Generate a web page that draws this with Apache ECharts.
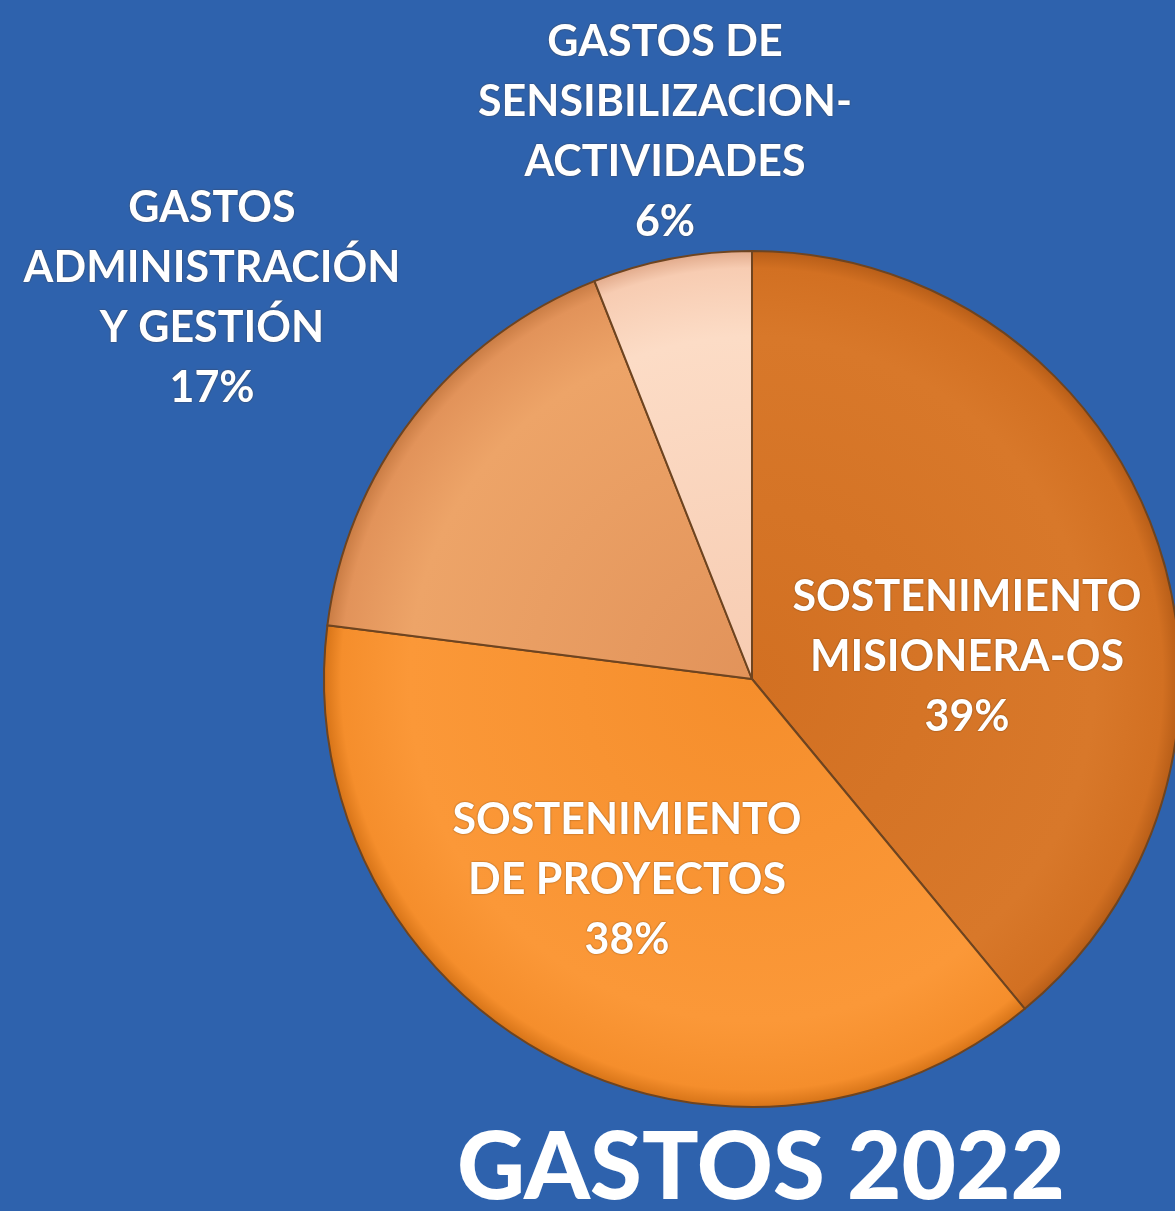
<!DOCTYPE html>
<html><head><meta charset="utf-8">
<script src="https://cdn.jsdelivr.net/npm/echarts@6/dist/echarts.min.js"></script>
<style>html,body{margin:0;padding:0;background:#2e62ad;}#c{width:1175px;height:1211px;}</style>
</head><body><div id="c"></div>
<script>
const categories = ['SOSTENIMIENTO\nMISIONERA-OS','SOSTENIMIENTO\nDE PROYECTOS','GASTOS\nADMINISTRACIÓN\nY GESTIÓN','GASTOS DE\nSENSIBILIZACION-\nACTIVIDADES'];
const values = [39, 38, 17, 6];
const colors = [['#d8782a','#d27022','#b85e18'],['#fb9838','#f58e2c','#d77418'],['#eda468','#e2935a','#c97c44'],['#fcdcc6','#f7ccb2','#e2ab8c']];
const labelPos = [[967,657],[627,880],[212,298],[665,132]];
const title = 'GASTOS 2022';

const CX = 752, CY = 679, R = 428;
const chart = echarts.init(document.getElementById('c'), null, {renderer:'canvas'});
chart.setOption({
  backgroundColor:'#2e62ad',
  animation:false,
  title:{text:title,left:756,top:1117,textAlign:'center',textStyle:{color:'#ffffff',fontFamily:'Lato',fontWeight:900,fontSize:94}},
  series:[{
    type:'pie',
    center:[CX,CY],
    radius:[0,R],
    startAngle:90,
    clockwise:true,
    data: categories.map((n,i)=>({name:n,value:values[i],itemStyle:{color:{type:'radial',x:CX,y:CY,r:R,global:true,colorStops:[{offset:0,color:colors[i][1]},{offset:0.8,color:colors[i][0]},{offset:0.96,color:colors[i][1]},{offset:1,color:colors[i][2]}]}}})),
    itemStyle:{borderColor:'#6e4420',borderWidth:2},
    label:{show:true,position:'inside',formatter:p=>p.name+'\n'+p.value+'%',color:'#ffffff',fontFamily:'Lato',fontWeight:'bold',fontSize:43,lineHeight:60,align:'center',textShadowColor:'rgba(60,30,0,0.6)',textShadowBlur:2},
    labelLine:{show:false},
    labelLayout:function(p){const q=labelPos[p.dataIndex];return {x:q[0],y:q[1],align:'center',verticalAlign:'middle'};}
  }]
});
</script></body></html>
